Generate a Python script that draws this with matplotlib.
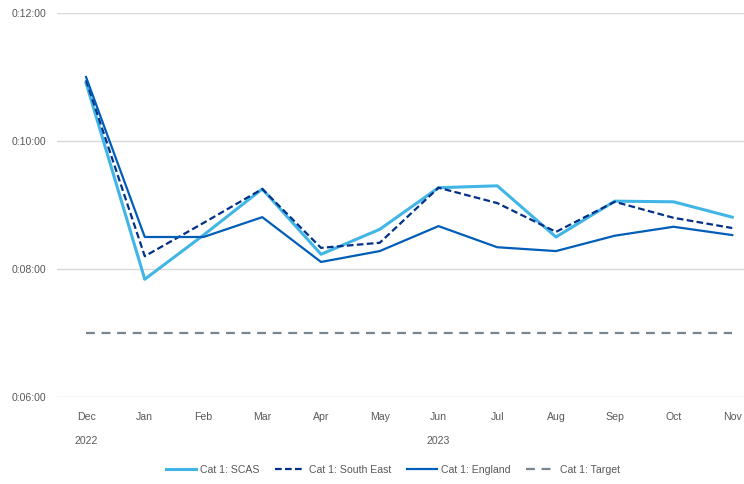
import matplotlib
matplotlib.use("Agg")
from matplotlib import pyplot as plt
from matplotlib.ticker import FuncFormatter
import numpy as np

months = ["Dec", "Jan", "Feb", "Mar", "Apr", "May", "Jun", "Jul", "Aug", "Sep", "Oct", "Nov"]
years = ["2022", "2023"]

# response times in minutes
scas = [10.91, 7.84, 8.53, 9.25, 8.23, 8.62, 9.27, 9.30, 8.50, 9.06, 9.05, 8.81]
south_east = [10.95, 8.20, 8.72, 9.25, 8.33, 8.41, 9.27, 9.03, 8.58, 9.05, 8.80, 8.64]
england = [11.0, 8.50, 8.50, 8.81, 8.11, 8.28, 8.67, 8.34, 8.28, 8.52, 8.66, 8.53]
target = [7.0] * 12

plt.rcParams['font.family'] = ['Liberation Sans', 'DejaVu Sans']
grey = "#595959"
fs = 7.6

fig = plt.figure(figsize=(7.44, 4.84), dpi=100)
ax = fig.add_axes([57 / 744, 1 - 397 / 484, (744 - 57) / 744, 384 / 484])

x = np.arange(len(months))
ax.plot(x, scas, color="#41B6E6", lw=2.2, label="Cat 1: SCAS")
ax.plot(x, south_east, color="#003087", lw=1.6, ls=(0, (3, 1.5)), label="Cat 1: South East")
ax.plot(x, england, color="#005EB8", lw=1.6, label="Cat 1: England")
ax.plot(x, target, color="#768692", lw=1.6, ls=(0, (4, 3)), label="Cat 1: Target")

ax.set_xlim(-0.494, 11.2)
ax.set_ylim(6, 12)
ax.set_yticks([6, 8, 10, 12])
ax.yaxis.set_major_formatter(FuncFormatter(lambda v, p: f"0:{int(v):02d}:00"))
ax.grid(axis="y", color="#d9d9d9", lw=1)
ax.set_axisbelow(True)
for s in ax.spines.values():
    s.set_visible(False)
ax.tick_params(axis="y", length=0, pad=8, labelsize=fs, labelcolor=grey)
ax.set_xticks(x)
ax.set_xticklabels(months)
ax.tick_params(axis="x", length=0, pad=11, labelsize=fs, labelcolor=grey)

# year labels
ax.text(0, -0.115, years[0], transform=ax.get_xaxis_transform(), ha="center", va="center",
        fontsize=fs, color=grey)
ax.text(np.mean(x[1:]), -0.115, years[1], transform=ax.get_xaxis_transform(), ha="center",
        va="center", fontsize=fs, color=grey)

leg = fig.legend(loc="center", bbox_to_anchor=(393 / 744, 1 - 470 / 484), ncol=4, frameon=False,
                 fontsize=fs, handlelength=2.8, handletextpad=0.4, columnspacing=1.5)
for t in leg.get_texts():
    t.set_color(grey)

plt.savefig("out.png", dpi=100)
